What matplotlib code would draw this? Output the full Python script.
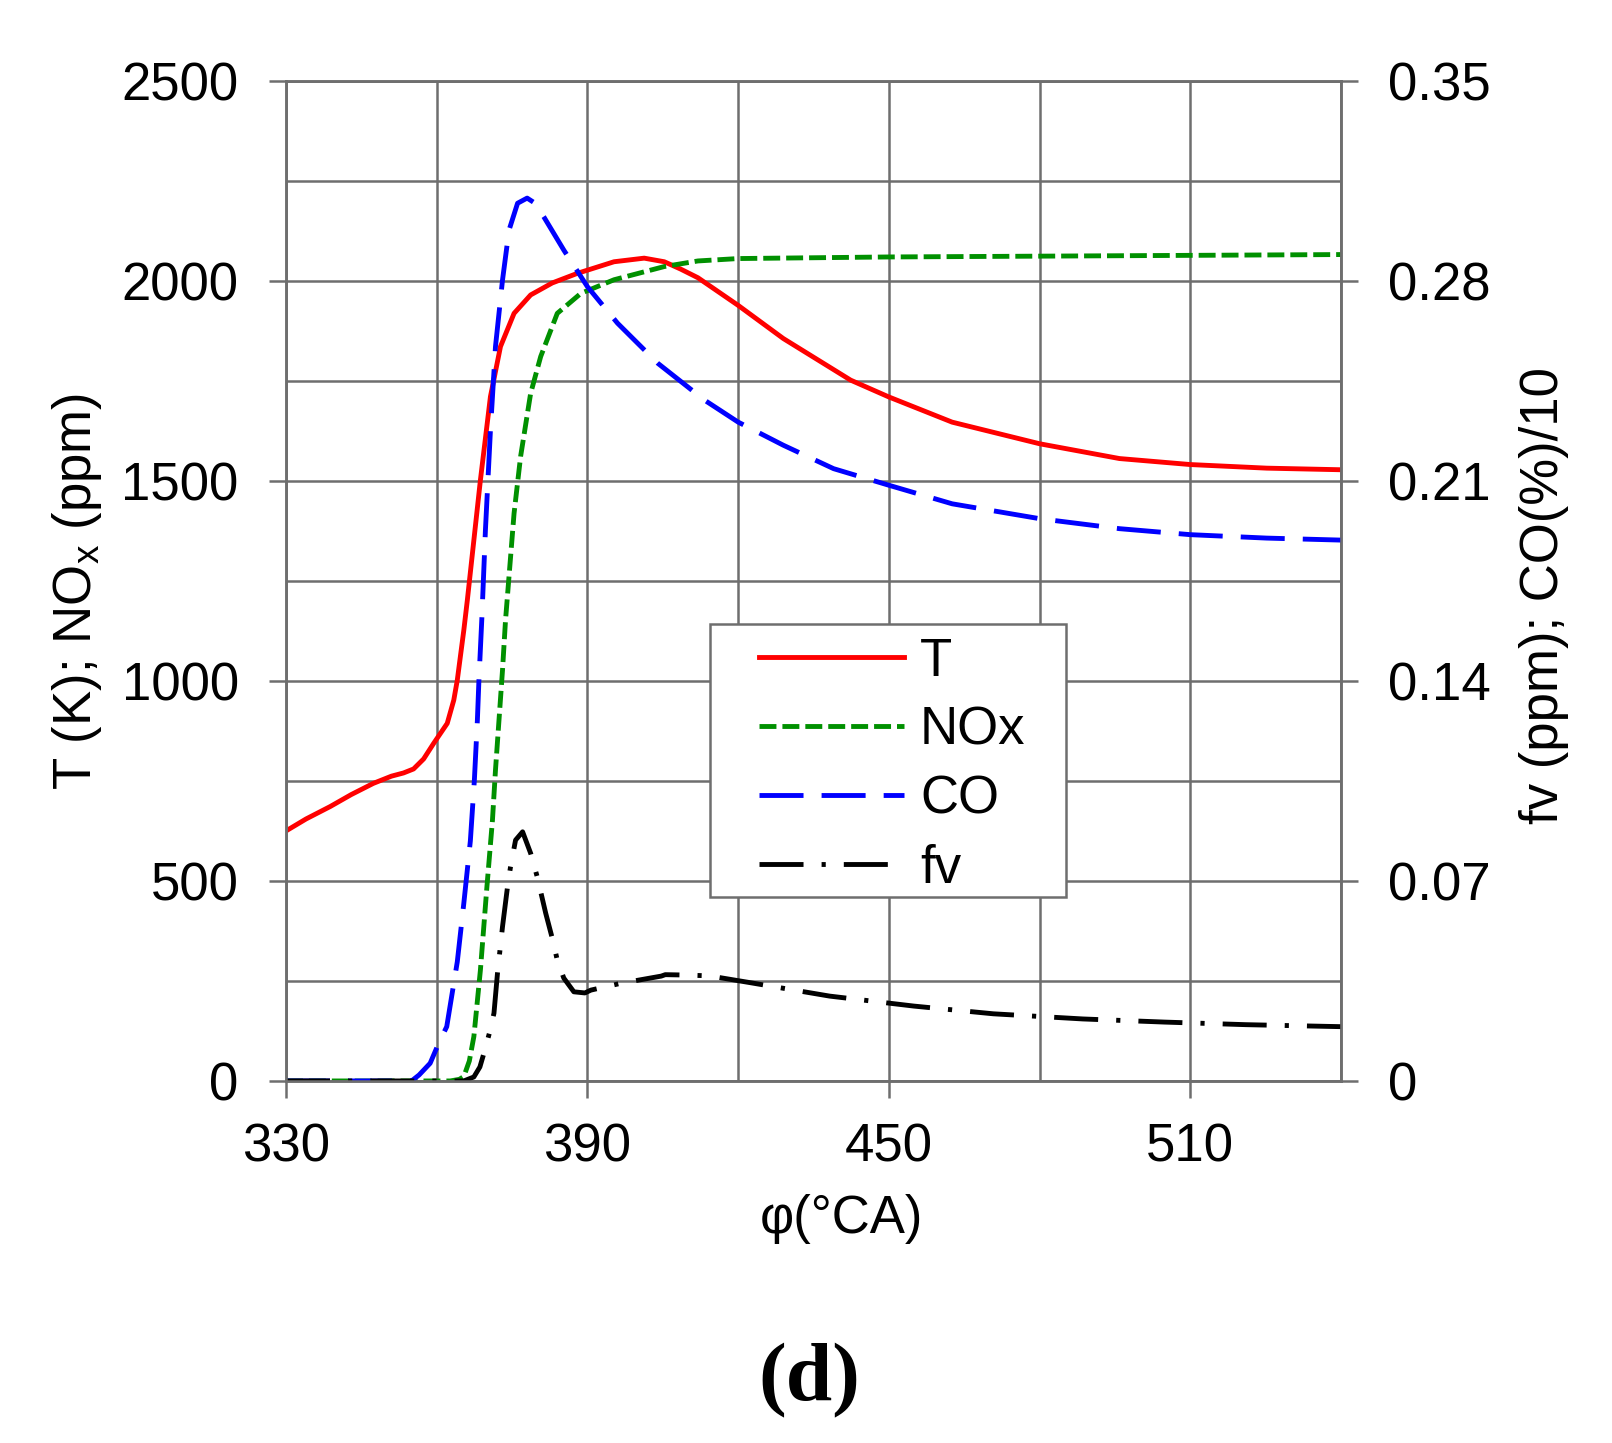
import numpy as np
import matplotlib
matplotlib.use('Agg')
import matplotlib.pyplot as plt
from matplotlib.patches import Rectangle

plt.rcParams['font.family'] = ['Liberation Sans', 'DejaVu Sans']
plt.rcParams['mathtext.default'] = 'regular'
plt.rcParams['lines.scale_dashes'] = False

# temperature (K)
t_x = [330, 334, 338.8, 343, 347.4, 351, 353.4, 355.4, 357.4, 359.4, 362.1, 363.4,
       364.1, 365.4, 366.1, 368.7, 370.7, 372.7, 375.4, 378.7, 383, 388, 395.3,
       401.3, 405.3, 408.5, 412, 420, 429, 442.4, 450, 462.6, 480, 495.9, 510,
       525.2, 540]
t_y = [625, 655, 686, 716, 744, 762, 770, 780, 805, 844, 894, 952,
       1002, 1127, 1202, 1502, 1711, 1836, 1919, 1965, 1995, 2019, 2048,
       2057, 2048, 2030, 2008, 1939, 1856, 1752, 1710, 1647, 1593, 1556, 1541,
       1532, 1528]

# NOx (ppm)
nox_x = [330, 362.7, 364.5, 365.4, 366.5, 367.4, 368.7, 370, 371.1, 371.7, 372.4,
         373.1, 373.7, 375.4, 376.7, 378.7, 380.7, 384, 388.7, 395.3, 405.3, 412,
         420, 450, 480, 510, 540]
nox_y = [0, 0, 4, 11, 50, 111, 277, 486, 652, 777, 902,
         1027, 1152, 1419, 1561, 1719, 1811, 1919, 1969, 2003, 2036, 2050,
         2056, 2060, 2062, 2064, 2066]

# CO(%)/10, right axis
co_x = [330, 355, 356.5, 358.7, 360.4, 362, 364.1, 365.4, 366.7, 367.5, 368.1,
        368.4, 369.0, 369.7, 370.7, 371.7, 373.1, 374.4, 376.1, 378, 379.5, 381.3,
        385.3, 390, 396, 404, 413.3, 420, 429, 439, 450, 462.6, 480, 495.9, 510,
        525.2, 540]
co_y = [0, 0, 0.0021, 0.0062, 0.0132, 0.0190, 0.0417, 0.0622, 0.0840, 0.1053, 0.1263,
        0.1400, 0.1624, 0.1928, 0.2278, 0.2570, 0.2803, 0.2978, 0.3072, 0.3090, 0.3073, 0.3025,
        0.2908, 0.2780, 0.2652, 0.2512, 0.2383, 0.2306, 0.2225, 0.2143, 0.2085, 0.2020, 0.1968, 0.1933, 0.1912,
        0.1900, 0.1893]

# soot fv (ppm), right axis
fv_x = [330, 365.4, 367.4, 368.6, 369.4, 370.5, 371.4, 372.1, 373.1, 374.1, 374.7,
        375.7, 377.1, 378.7, 380, 381.7, 383.1, 384, 385.3, 387.3, 389.5, 390.7,
        396.7, 404.7, 405.5, 408.6, 414.2, 422.4, 438.2, 455, 470.8, 488.6, 504.9,
        521, 540]
fv_y = [0, 0, 0.0014, 0.0049, 0.0097, 0.0168, 0.0237, 0.0377, 0.0540, 0.0680, 0.0750,
        0.0843, 0.0872, 0.0797, 0.0715, 0.0587, 0.0493, 0.0423, 0.0360, 0.0312, 0.0308, 0.0318,
        0.0342, 0.0367, 0.0372, 0.0371, 0.0368, 0.0344, 0.0297, 0.0262, 0.0235, 0.0217, 0.0206,
        0.0197, 0.0190]

left_ticks = [0, 500, 1000, 1500, 2000, 2500]
right_ticks = [0, 0.07, 0.14, 0.21, 0.28, 0.35]
right_labels = ['0', '0.07', '0.14', '0.21', '0.28', '0.35']
x_ticks = [330, 390, 450, 510]

grey = '#6e6e6e'
fs = 38
lw = 3.5

fig = plt.figure(figsize=(16.12, 14.43), dpi=100)
ax = fig.add_axes([0.1774, 0.2509, 0.6545, 0.6930])
ax2 = ax.twinx()

lt, = ax.plot(t_x, t_y, color='red', lw=lw, label='T')
ln, = ax.plot(nox_x, nox_y, color='#009000', lw=lw, dashes=(12.2, 4.3), label='NOx')
lc, = ax2.plot(co_x, co_y, color='blue', lw=lw, dashes=(31.7, 13), label='CO')
lf, = ax2.plot(fv_x, fv_y, color='black', lw=lw, dashes=(31.7, 13, 3, 13), label='fv')

ax.set_xlim(330, 540)
ax.set_ylim(0, 2500)
ax2.set_ylim(0, 0.35)

ax.set_xticks(x_ticks)
ax.set_xticks(np.arange(360, 541, 60), minor=True)
ax.set_yticks(left_ticks)
ax.set_yticks(np.arange(250, 2500, 500), minor=True)
ax2.set_yticks(right_ticks)
ax2.set_yticklabels(right_labels)

ax.grid(which='both', color=grey, lw=1.8)
ax.set_axisbelow(True)
ax.tick_params(which='major', direction='out', length=12, width=1.8, color=grey,
               labelsize=fs)
ax.tick_params(axis='y', pad=22)
ax.tick_params(axis='x', pad=18)
ax.tick_params(which='minor', length=0)
ax2.tick_params(direction='out', length=12, width=1.8, color=grey, labelsize=fs, pad=22)
for a in (ax, ax2):
    for s in a.spines.values():
        s.set_color(grey)
        s.set_linewidth(1.8)

fig.text(0.0478, 0.5904, 'T (K); NO$_x$ (ppm)', rotation=90, ha='center', va='center',
         fontsize=fs)
fig.text(0.958, 0.587, 'fv (ppm); CO(%)/10', rotation=90, ha='center', va='center',
         fontsize=fs)
fig.text(0.5217, 0.155, 'φ(°CA)', ha='center', va='center', fontsize=fs)
fig.text(0.502, 0.043, '(d)', ha='center', va='center', fontsize=60,
         family='Liberation Serif', weight='bold')

# legend box drawn separately so the margins match
ax2.add_patch(Rectangle((0.402, 0.184), 0.3374, 0.273, transform=ax2.transAxes,
                        facecolor='white', edgecolor=grey, lw=1.8, zorder=4))
leg = ax2.legend(handles=[lt, ln, lc, lf], loc='upper left', bbox_to_anchor=(0.4483, 0.444),
                 frameon=False, fontsize=fs, borderpad=0, borderaxespad=0,
                 handlelength=2.75, handletextpad=0.3, labelspacing=0.36)
leg.set_zorder(5)

fig.savefig('out.png', dpi=100)
